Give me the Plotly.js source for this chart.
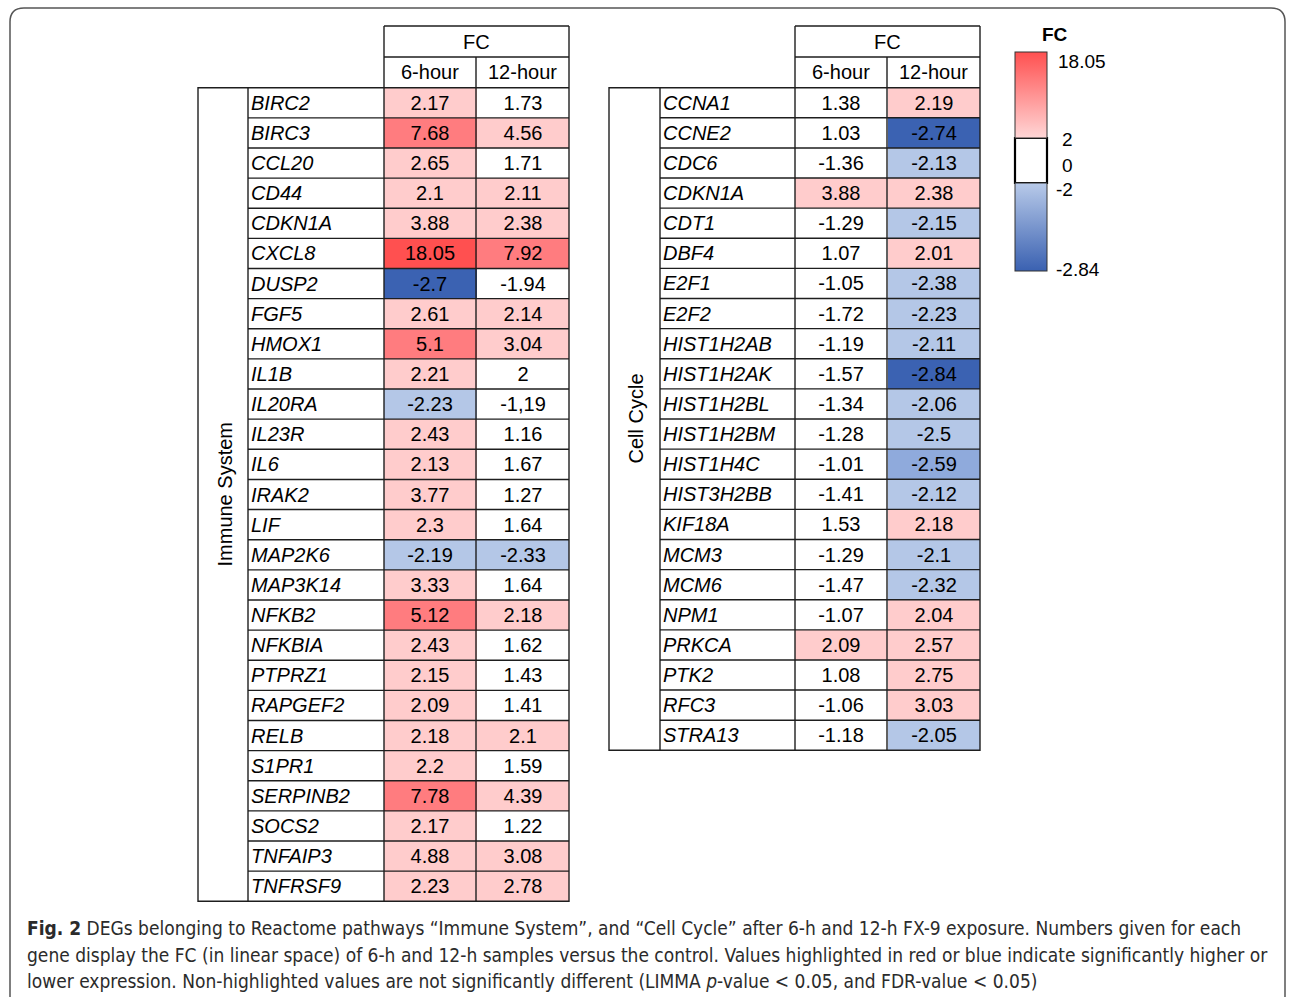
<!DOCTYPE html>
<html>
<head>
<meta charset="utf-8">
<script src="https://cdn.plot.ly/plotly-3.0.1.min.js"></script>
<style>html,body{margin:0;padding:0;background:#fff;}#chart{width:1295px;height:997px;}</style>
</head>
<body>
<div id="chart"></div>
<script>
// ---------------- DATA ----------------
const timeLabels = ["6-hour", "12-hour"];
const headerLabel = "FC";

const immuneGroup = "Immune System";
const immuneGenes = ["BIRC2","BIRC3","CCL20","CD44","CDKN1A","CXCL8","DUSP2","FGF5","HMOX1","IL1B","IL20RA","IL23R","IL6","IRAK2","LIF","MAP2K6","MAP3K14","NFKB2","NFKBIA","PTPRZ1","RAPGEF2","RELB","S1PR1","SERPINB2","SOCS2","TNFAIP3","TNFRSF9"];
const immune6h  = [2.17,7.68,2.65,2.1,3.88,18.05,-2.7,2.61,5.1,2.21,-2.23,2.43,2.13,3.77,2.3,-2.19,3.33,5.12,2.43,2.15,2.09,2.18,2.2,7.78,2.17,4.88,2.23];
const immune12h = [1.73,4.56,1.71,2.11,2.38,7.92,-1.94,2.14,3.04,2,-1.19,1.16,1.67,1.27,1.64,-2.33,1.64,2.18,1.62,1.43,1.41,2.1,1.59,4.39,1.22,3.08,2.78];
// the printed figure shows this one value with a decimal comma
const immune12hPrinted = {"IL20RA": "-1,19"};

const cellGroup = "Cell Cycle";
const cellGenes = ["CCNA1","CCNE2","CDC6","CDKN1A","CDT1","DBF4","E2F1","E2F2","HIST1H2AB","HIST1H2AK","HIST1H2BL","HIST1H2BM","HIST1H4C","HIST3H2BB","KIF18A","MCM3","MCM6","NPM1","PRKCA","PTK2","RFC3","STRA13"];
const cell6h  = [1.38,1.03,-1.36,3.88,-1.29,1.07,-1.05,-1.72,-1.19,-1.57,-1.34,-1.28,-1.01,-1.41,1.53,-1.29,-1.47,-1.07,2.09,1.08,-1.06,-1.18];
const cell12h = [2.19,-2.74,-2.13,2.38,-2.15,2.01,-2.38,-2.23,-2.11,-2.84,-2.06,-2.5,-2.59,-2.12,2.18,-2.1,-2.32,2.04,2.57,2.75,3.03,-2.05];

// colour classes used by the figure (lower bound, upper bound, colour)
const fcMin = -2.84, fcMax = 18.05;
const binLows   = [-2.84, -2.65, -2.55, -2.0, 2.005, 5.0, 10.0];
const binHighs  = [-2.65, -2.55, -2.0, 2.005, 5.0, 10.0, 18.05];
const binColors = ["#3B62B2", "#8FAADC", "#B4C7E7", "#FFFFFF", "#FFCCCC", "#FF7C7F", "#FF5050"];

// legend
const legendTitle = "FC";
const legendLabels = ["18.05", "2", "0", "-2", "-2.84"];
const legendRedScale  = [[0, "#FFD6D6"], [1, "#FF5050"]];
const legendBlueScale = [[0, "#3A61B1"], [1, "#B8CAE9"]];

const captionLines = [
  "<b>Fig. 2</b> DEGs belonging to Reactome pathways \u201cImmune System\u201d, and \u201cCell Cycle\u201d after 6-h and 12-h FX-9 exposure. Numbers given for each",
  "gene display the FC (in linear space) of 6-h and 12-h samples versus the control. Values highlighted in red or blue indicate significantly higher or",
  "lower expression. Non-highlighted values are not significantly different (LIMMA <i>p</i>-value &lt; 0.05, and FDR-value &lt; 0.05)"
];

// ---------------- LAYOUT HELPERS ----------------
const W = 1295, H = 997;
const px = x => x / W;
const py = y => 1 - y / H;
const FONT = "Liberation Sans, Arial, sans-serif";
const LINE = "#1e1e1e";
const LW = 1.4;

const pos = v => (v - fcMin) / (fcMax - fcMin);
const fcScale = [];
binLows.forEach((lo, i) => {
  fcScale.push([pos(lo), binColors[i]]);
  fcScale.push([pos(binHighs[i]), binColors[i]]);
});
fcScale[0][0] = 0; fcScale[fcScale.length - 1][0] = 1;

const traces = [], shapes = [], annotations = [];
const layout = {
  width: W, height: H,
  margin: {l: 0, r: 0, t: 0, b: 0},
  paper_bgcolor: "#fff", plot_bgcolor: "#fff",
  showlegend: false,
  font: {family: FONT, color: "#000"}
};

function buildTable(k, geo, group, genes, v6, v12, printed12) {
  const xa = "x" + (k === 1 ? "" : k), ya = "y" + (k === 1 ? "" : k);
  const z = genes.map((g, i) => [v6[i], v12[i]]);
  const text = genes.map((g, i) => [String(v6[i]), (printed12 && printed12[g]) || String(v12[i])]);
  traces.push({
    type: "heatmap", x: timeLabels, y: genes, z: z, text: text,
    texttemplate: "%{text}", textfont: {family: FONT, size: 20, color: "#000"},
    colorscale: fcScale, zmin: fcMin, zmax: fcMax, showscale: false,
    xaxis: xa, yaxis: ya, hoverinfo: "skip"
  });
  const axBase = {showgrid: false, zeroline: false, showticklabels: false, ticks: "", showline: false, fixedrange: true};
  layout["xaxis" + (k === 1 ? "" : k)] = Object.assign({}, axBase, {domain: [px(geo.c6), px(geo.right)], anchor: ya});
  layout["yaxis" + (k === 1 ? "" : k)] = Object.assign({}, axBase, {domain: [py(geo.bottom), py(geo.rowTop)], anchor: xa, autorange: "reversed"});

  const yr = ya;
  for (let i = 0; i <= genes.length; i++) {
    const edge = (i === 0 || i === genes.length);
    shapes.push({type: "line", xref: "paper", yref: yr,
      x0: px(edge ? geo.left : geo.gene), x1: px(geo.right), y0: i - 0.5, y1: i - 0.5,
      line: {color: LINE, width: LW}});
  }
  const vl = (x, y0, y1) => shapes.push({type: "line", xref: "paper", yref: "paper",
    x0: px(x), x1: px(x), y0: py(y0), y1: py(y1), line: {color: LINE, width: LW}});
  vl(geo.left, geo.rowTop, geo.bottom);
  vl(geo.gene, geo.rowTop, geo.bottom);
  vl(geo.c6, geo.top, geo.bottom);
  vl(geo.c12, geo.sub, geo.bottom);
  vl(geo.right, geo.top, geo.bottom);
  const hl = (y) => shapes.push({type: "line", xref: "paper", yref: "paper",
    x0: px(geo.c6), x1: px(geo.right), y0: py(y), y1: py(y), line: {color: LINE, width: LW}});
  hl(geo.top); hl(geo.sub);

  const hdrFont = {family: FONT, size: 20, color: "#000"};
  annotations.push({xref: "paper", yref: "paper", x: px((geo.c6 + geo.right) / 2), y: py((geo.top + geo.sub) / 2),
    text: headerLabel, showarrow: false, font: hdrFont, xanchor: "center", yanchor: "middle"});
  annotations.push({xref: "paper", yref: "paper", x: px((geo.c6 + geo.c12) / 2), y: py((geo.sub + geo.rowTop) / 2),
    text: timeLabels[0], showarrow: false, font: hdrFont, xanchor: "center", yanchor: "middle"});
  annotations.push({xref: "paper", yref: "paper", x: px((geo.c12 + geo.right) / 2), y: py((geo.sub + geo.rowTop) / 2),
    text: timeLabels[1], showarrow: false, font: hdrFont, xanchor: "center", yanchor: "middle"});
  genes.forEach(g => annotations.push({xref: "paper", yref: yr, x: px(geo.gene + 1), y: g,
    text: "<i>" + g + "</i>", showarrow: false, font: hdrFont, xanchor: "left", yanchor: "middle"}));
  annotations.push({xref: "paper", yref: "paper", x: px((geo.left + geo.gene) / 2 + 1), y: py((geo.rowTop + geo.bottom) / 2),
    text: group, textangle: -90, showarrow: false, font: hdrFont, xanchor: "center", yanchor: "middle"});
}

buildTable(1, {left: 198, gene: 248, c6: 384, c12: 476, right: 569, top: 26, sub: 57, rowTop: 87, bottom: 902},
  immuneGroup, immuneGenes, immune6h, immune12h, immune12hPrinted);
buildTable(2, {left: 609, gene: 660, c6: 795, c12: 887, right: 980, top: 26, sub: 57, rowTop: 87, bottom: 751},
  cellGroup, cellGenes, cell6h, cell12h, null);

// ---------------- LEGEND ----------------
layout.xaxis3 = {domain: [0, 0.01], visible: false, fixedrange: true, anchor: "y3"};
layout.yaxis3 = {domain: [0, 0.01], visible: false, fixedrange: true, anchor: "x3"};
function legendBar(scale, cmin, cmax, top, len) {
  traces.push({type: "scatter", mode: "markers", x: [null], y: [null], xaxis: "x3", yaxis: "y3", hoverinfo: "skip",
    marker: {color: [cmin], colorscale: scale, cmin: cmin, cmax: cmax, showscale: true,
      colorbar: {x: px(1015), xanchor: "left", xref: "paper", y: py(top), yanchor: "top", yref: "paper",
        len: len, lenmode: "pixels", thickness: 32, thicknessmode: "pixels", xpad: 0, ypad: 0,
        outlinewidth: 1, outlinecolor: "#333", borderwidth: 0, showticklabels: false, ticks: ""}}});
}
legendBar(legendRedScale, 2, 18.05, 52, 86);
legendBar(legendBlueScale, -2.84, -2, 183, 88);
shapes.push({type: "rect", xref: "paper", yref: "paper", x0: px(1015), x1: px(1047), y0: py(138), y1: py(183),
  fillcolor: "#fff", line: {color: "#000", width: 2.2}});
annotations.push({xref: "paper", yref: "paper", x: px(1055), y: py(34), text: "<b>" + legendTitle + "</b>",
  showarrow: false, font: {family: FONT, size: 19, color: "#000"}, xanchor: "center", yanchor: "middle"});
const legendLabelX = [1056, 1060, 1060, 1054, 1054];
const legendLabelY = [61, 140, 165, 190, 269];
legendLabels.forEach((t, i) => annotations.push({xref: "paper", yref: "paper", x: px(legendLabelX[i]), y: py(legendLabelY[i]),
  text: t, showarrow: false, font: {family: FONT, size: 19, color: "#000"}, xanchor: "left", yanchor: "middle"}));

// ---------------- FRAME & CAPTION ----------------
(function frame() {
  const l = 10, t = 8, r = 1285, b = 1010, rad = 14;
  const X = v => px(v).toFixed(5), Y = v => py(v).toFixed(5);
  const path = `M ${X(l + rad)} ${Y(t)} L ${X(r - rad)} ${Y(t)} Q ${X(r)} ${Y(t)} ${X(r)} ${Y(t + rad)} L ${X(r)} ${Y(b - rad)} ` +
    `Q ${X(r)} ${Y(b)} ${X(r - rad)} ${Y(b)} L ${X(l + rad)} ${Y(b)} Q ${X(l)} ${Y(b)} ${X(l)} ${Y(b - rad)} L ${X(l)} ${Y(t + rad)} Q ${X(l)} ${Y(t)} ${X(l + rad)} ${Y(t)} Z`;
  shapes.push({type: "path", xref: "paper", yref: "paper", path: path, line: {color: "#555", width: 1.5}, layer: "below"});
})();
const captionY = [928, 955, 981];
captionLines.forEach((t, i) => annotations.push({xref: "paper", yref: "paper", x: px(25), y: py(captionY[i]),
  text: t, showarrow: false, xanchor: "left", yanchor: "middle", align: "left",
  font: {family: "DejaVu Sans Condensed, Liberation Sans Narrow, sans-serif", size: 19, color: "#2b2b2b"}}));

layout.shapes = shapes;
layout.annotations = annotations;
Plotly.newPlot("chart", traces, layout, {staticPlot: true, displayModeBar: false});
</script>
</body>
</html>
